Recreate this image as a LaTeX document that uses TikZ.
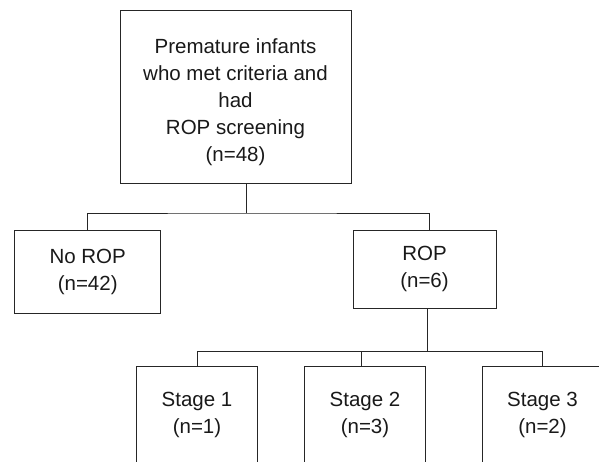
\documentclass[tikz,border=0pt]{standalone}
\usepackage{fontspec}
\setmainfont{Liberation Sans}
\begin{document}
\begin{tikzpicture}[
    x=1pt, y=-1pt,
    every node/.style={rectangle, draw=black!85, line width=0.9pt, text=black!90,
                       align=center, inner sep=0pt,
                       font=\fontsize{20.5}{27}\selectfont},
    link/.style={draw=black!85, line width=0.9pt},
]
  \useasboundingbox (0,0) rectangle (599,462);
  \clip (0,0) rectangle (599,462);
  % boxes
  \node [minimum width=231, minimum height=173] (top)  at (235.5, 97  ) {\rule{0pt}{25pt}Premature infants\\who met criteria and\\had\\ROP screening\\(n=48)};
  \node [minimum width=146, minimum height=83 ] (norop) at (87.7, 271.5) {No ROP\\(n=42)};
  \node [minimum width=143, minimum height=78 ] (rop)  at (424.5, 269 ) {ROP\\(n=6)};
  \node [minimum width=121, minimum height=97 ] (s1)   at (197,   415 ) {Stage 1\\(n=1)};
  \node [minimum width=121, minimum height=97 ] (s2)   at (365,   415 ) {Stage 2\\(n=3)};
  \node [minimum width=121, minimum height=97 ] (s3)   at (542.5, 415 ) {Stage 3\\(n=2)};
  % connectors
  \coordinate (j1) at ([xshift=10.5]top.south |- 0,213);
  \coordinate (j2) at ([xshift=2.5]rop.south |- 0,351.5);
  \draw [link] ([xshift=10.5]top.south) -- (j1);
  \draw [link] (norop.north) |- (j1) -| ([xshift=5]rop.north);
  \draw [link] ([xshift=2.5]rop.south) -- (j2);
  \draw [link] (s1.north) |- (j2) -| (s3.north);
  \draw [link] ([xshift=-4]s2.north) -- ([xshift=-4]s2.north |- j2);
\end{tikzpicture}
\end{document}
